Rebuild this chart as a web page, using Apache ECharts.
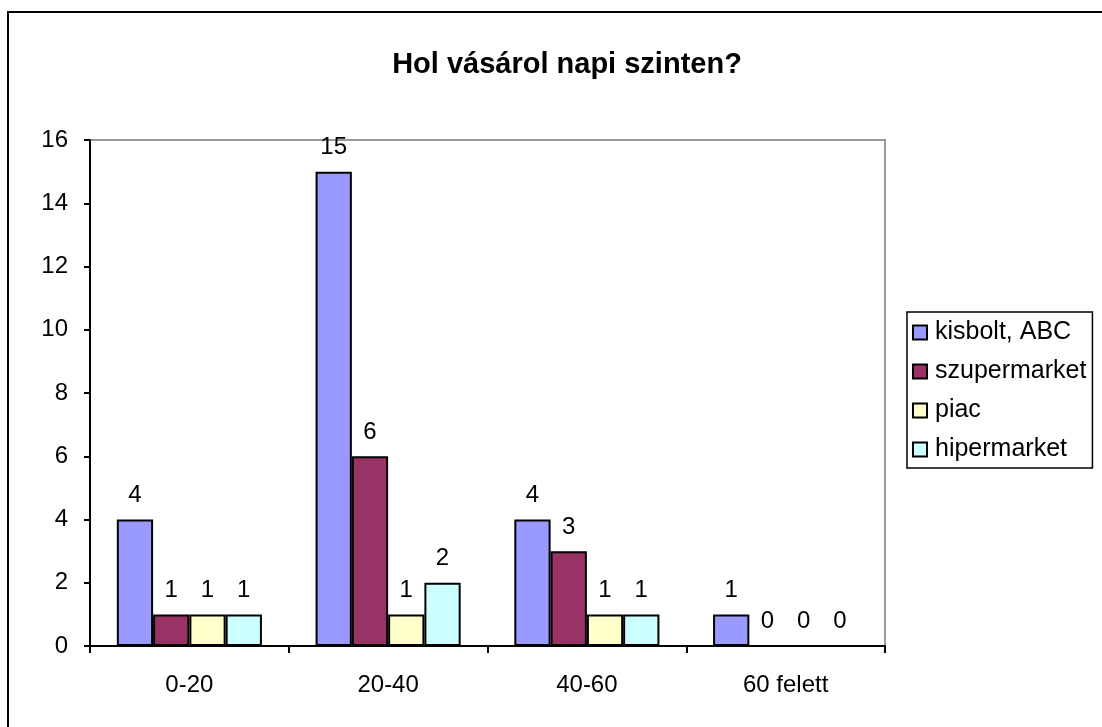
<!DOCTYPE html>
<html>
<head>
<meta charset="utf-8">
<script src="https://cdn.jsdelivr.net/npm/echarts@6/dist/echarts.min.js"></script>
<style>
  html, body { margin: 0; padding: 0; background: #fff; }
  #main { width: 1102px; height: 727px; }
</style>
</head>
<body>
<div id="main"></div>
<script>
const categories = ['0-20', '20-40', '40-60', '60 felett']
const seriesNames = ['kisbolt, ABC', 'szupermarket', 'piac', 'hipermarket']
const kisbolt = [4, 15, 4, 1]
const szupermarket = [1, 6, 3, 0]
const piac = [1, 1, 1, 0]
const hipermarket = [1, 2, 1, 0]
const colors = ['#9999FF', '#993366', '#FFFFCC', '#CCFFFF']

const font = 'Arial, "Liberation Sans", sans-serif'
const values = [kisbolt, szupermarket, piac, hipermarket]

const chart = echarts.init(document.getElementById('main'))

chart.setOption({
  animation: false,
  backgroundColor: '#fff',
  title: {
    text: 'Hol vásárol napi szinten?',
    left: 562,
    top: 45,
    textAlign: 'center',
    textStyle: { fontFamily: font, fontSize: 29, fontWeight: 'bold', color: '#000' }
  },
  legend: {
    orient: 'vertical',
    left: 907,
    top: 312,
    icon: 'rect',
    itemWidth: 14,
    itemHeight: 14,
    itemGap: 14,
    padding: [8, 6, 6, 5],
    borderColor: '#000',
    borderWidth: 1.5,
    textStyle: { fontFamily: font, fontSize: 25, color: '#000', padding: [0, 0, 0, 3] },
    data: seriesNames
  },
  grid: {
    left: 90,
    top: 140,
    right: 217,
    bottom: 81,
    show: true,
    borderColor: '#9a9a9a',
    borderWidth: 2
  },
  xAxis: {
    type: 'category',
    data: categories,
    axisLine: { lineStyle: { color: '#000', width: 2 } },
    axisTick: { show: true, length: 7, lineStyle: { color: '#000', width: 2 } },
    axisLabel: { margin: 27, fontFamily: font, fontSize: 24, color: '#000' }
  },
  yAxis: {
    type: 'value',
    min: 0,
    max: 16,
    interval: 2,
    splitLine: { show: false },
    axisLine: { show: true, lineStyle: { color: '#000', width: 2 } },
    axisTick: { show: true, length: 6, lineStyle: { color: '#000', width: 2 } },
    axisLabel: { margin: 22, fontFamily: font, fontSize: 24, color: '#000' }
  },
  series: seriesNames.map((name, i) => ({
    name: name,
    type: 'bar',
    data: values[i],
    barGap: '0%',
    barCategoryGap: '27%',
    itemStyle: { color: colors[i], borderColor: '#000', borderWidth: 2 },
    label: {
      show: true,
      position: 'top',
      distance: 12,
      fontFamily: font,
      fontSize: 24,
      color: '#000'
    }
  })),
  graphic: [{
    type: 'rect',
    shape: { x: 8, y: 12, width: 1200, height: 800 },
    style: { fill: 'none', stroke: '#000', lineWidth: 2 },
    silent: true
  }]
})
</script>
</body>
</html>
